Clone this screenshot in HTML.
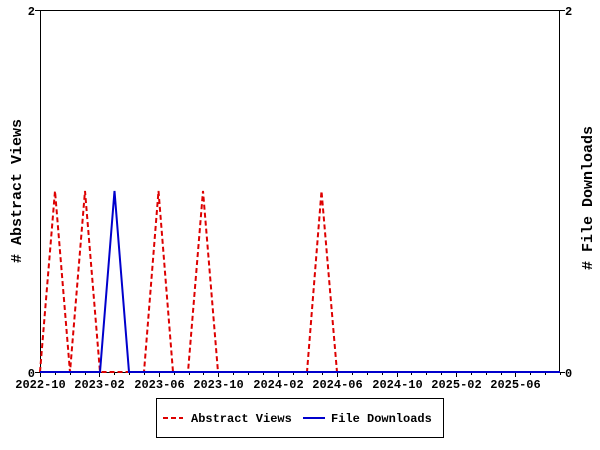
<!DOCTYPE html>
<html><head><meta charset="utf-8"><style>body{margin:0;background:#fff}svg{display:block}text{font-family:"Liberation Mono","DejaVu Sans Mono",monospace;font-size:12px;font-weight:bold}</style></head>
<body>
<svg id="s" width="600" height="450" xmlns="http://www.w3.org/2000/svg">
<rect width="600" height="450" fill="#fff"/>
<g id="ticks" stroke="#000" stroke-width="1"></g>
<rect x="40.5" y="10.5" width="519" height="362" fill="none" stroke="#000"/>
<polyline fill="none" stroke="#dd0000" stroke-width="2" stroke-dasharray="5,3" points="40,372 55,191 70,372 85,191 100,372 144,372 158.5,191 173,372 188,372 203,191 218,372 307,372 321.5,191 337,372 560,372"/>
<polyline fill="none" stroke="#0000cc" stroke-width="2" points="40,372 100,372 114.5,191 129,372 560,372"/>
<text x="35" y="15" text-anchor="end">2</text>
<text x="35" y="377" text-anchor="end">0</text>
<text x="565" y="15">2</text>
<text x="565" y="377">0</text>
<text transform="translate(21,191) rotate(-90)" text-anchor="middle" style="font-size:15px"># Abstract Views</text>
<text transform="translate(592,198) rotate(-90)" text-anchor="middle" style="font-size:15px"># File Downloads</text>
<g id="labels"></g>
<rect x="156.5" y="398.5" width="287" height="39" fill="none" stroke="#000"/>
<line x1="163" y1="418" x2="183" y2="418" stroke="#dd0000" stroke-width="2" stroke-dasharray="5,3"/>
<text x="191" y="422">Abstract Views</text>
<line x1="303" y1="418" x2="325" y2="418" stroke="#0000cc" stroke-width="2"/>
<text x="331" y="422">File Downloads</text>
</svg>
<script>
var t=document.getElementById('ticks'),l=document.getElementById('labels'),ns='http://www.w3.org/2000/svg';
var step=520/35;
var names=['2022-10','2023-02','2023-06','2023-10','2024-02','2024-06','2024-10','2025-02','2025-06'];
for(var i=0;i<=35;i++){var x=Math.round(40+i*step)+0.5;var ln=document.createElementNS(ns,'line');ln.setAttribute('x1',x);ln.setAttribute('x2',x);ln.setAttribute('y1',372);ln.setAttribute('y2',i%4==0?377:375);t.appendChild(ln);
if(i%4==0&&i/4<names.length){var tx=document.createElementNS(ns,'text');tx.setAttribute('x',x);tx.setAttribute('y',388);tx.setAttribute('text-anchor','middle');tx.textContent=names[i/4];l.appendChild(tx);}}
[10,372].forEach(function(y){[[35,40],[560,565]].forEach(function(p){var ln=document.createElementNS(ns,'line');ln.setAttribute('x1',p[0]);ln.setAttribute('x2',p[1]);ln.setAttribute('y1',y+0.5);ln.setAttribute('y2',y+0.5);t.appendChild(ln);});});
</script>
</body></html>
